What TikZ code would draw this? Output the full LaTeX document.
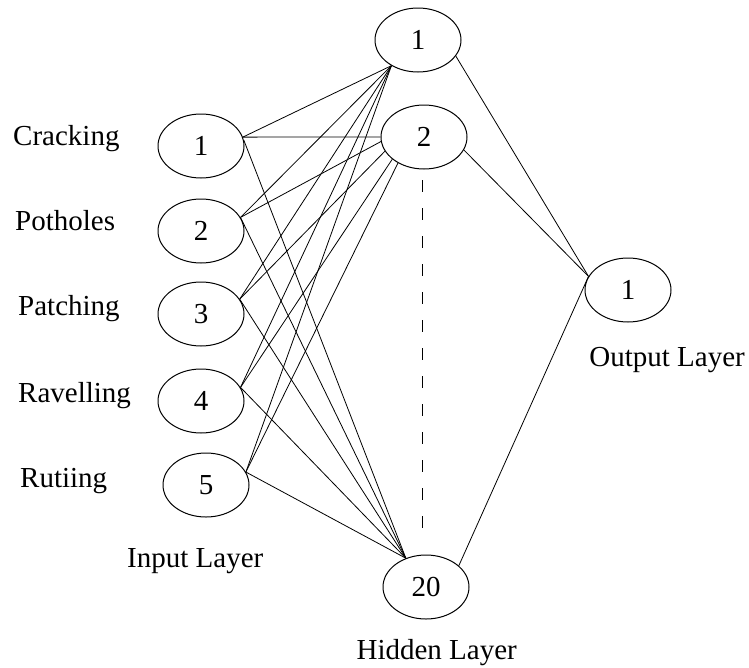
\documentclass[tikz,border=0pt]{standalone}
\usepackage{fontspec}
\setmainfont{Liberation Serif}
\usetikzlibrary{shapes.geometric}
\begin{document}
\begin{tikzpicture}[x=1pt,y=-1pt,
  neuron/.style={draw,ellipse,line width=1pt,minimum width=86pt,minimum height=64pt,inner sep=0pt,font=\fontsize{29}{34}\selectfont},
  lbl/.style={inner sep=0pt,font=\fontsize{29}{34}\selectfont},
  link/.style={line width=0.8pt}]
\useasboundingbox (0,0) rectangle (749,667);
% input layer
\node[neuron] (i1) at (201,146) {1};
\node[neuron] (i2) at (201,231) {2};
\node[neuron] (i3) at (201,314) {3};
\node[neuron] (i4) at (201,401) {4};
\node[neuron] (i5) at (206,485) {5};
% hidden layer
\node[neuron] (h1) at (418,40) {1};
\node[neuron] (h2) at (424,137) {2};
\node[neuron] (h20) at (426,587) {20};
% output layer
\node[neuron] (o1) at (628,290) {1};
% labels
\node[lbl,anchor=base west] (l1) at (13,145) {Cracking};
\node[lbl,anchor=base west] (l2) at (15,230) {Potholes};
\node[lbl,anchor=base west] (l3) at (18,315) {Patching};
\node[lbl,anchor=base west] (l4) at (18,402) {Ravelling};
\node[lbl,anchor=base west] (l5) at (20,487) {Rutiing};
\node[lbl,anchor=base west] (il) at (127,567) {Input Layer};
\node[lbl,anchor=base east] (hl) at (517,659) {Hidden Layer};
\node[lbl,anchor=base east] (ol) at (745,366) {Output Layer};
% input -> hidden connections
\draw[link] (i1.12) -- (h1.224);
\draw[link] (i1.12) -- (h2.180);
\draw[link] (i1.8) -- (h20.125);
\draw[link] (i2.19) -- (h1.224);
\draw[link] (i2.19) -- (h2.186);
\draw[link] (i2.19) -- (h20.125);
\draw[link] (i3.21) -- (h1.224);
\draw[link] (i3.21) -- (h2.200);
\draw[link] (i3.21) -- (h20.125);
\draw[link] (i4.19) -- (h1.224);
\draw[link] (i4.19) -- (h2.215);
\draw[link] (i4.19) -- (h20.125);
\draw[link] (i5.18) -- (h1.224);
\draw[link] (i5.18) -- (h2.225);
\draw[link] (i5.18) -- (h20.125);
% hidden -> output connections
\draw[link] (h1.337) -- (o1.161);
\draw[link] (h2.342) -- (o1.161);
\draw[link] (h20.33) -- (o1.161);
% elided hidden units
\coordinate (d1) at (422,180);
\coordinate (d2) at (422,542);
\draw[line width=1pt,dash pattern=on 12pt off 16pt] (d1) -- (d2);
\end{tikzpicture}
\end{document}
